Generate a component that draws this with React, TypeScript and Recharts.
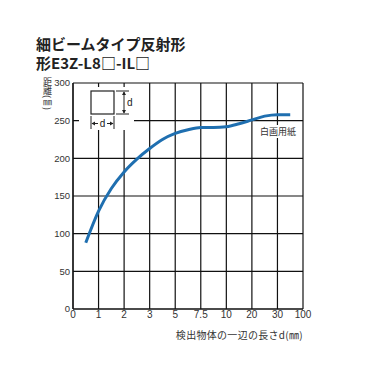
import { LineChart, Line, XAxis, YAxis, CartesianGrid } from "recharts";

// x axis is categorical-looking but evenly spaced: index -> label
const xLabels = ["0", "1", "2", "3", "5", "7.5", "10", "20", "30", "100"];
const xTicks = [0, 1, 2, 3, 4, 5, 6, 7, 8, 9];
const yTicks = [0, 50, 100, 150, 200, 250, 300];

// curve (x in tick-index units)
const curvePos = [0.5, 1, 1.5, 2, 2.5, 3, 3.5, 4, 4.5, 5, 5.5, 6, 6.5, 7, 7.5, 8, 8.5];
const distance = [88, 130, 160, 182, 199, 213, 225, 233, 238, 241, 241, 242, 246, 251, 256, 258, 258];

const data = curvePos.map((x, i) => ({ x, d: distance[i] }));

const font = "'Liberation Sans', Arial, 'Noto Sans CJK JP', sans-serif";
const jp = "'Noto Sans CJK JP', 'Liberation Sans', sans-serif";

export default function App() {
  return (
    <div
      style={{
        position: "absolute",
        left: 0,
        top: 0,
        width: 368,
        height: 370,
        background: "#fff",
        fontFamily: font,
      }}
    >
      <div
        style={{
          position: "absolute",
          left: 36,
          top: 34,
          fontFamily: jp,
          fontSize: 15,
          fontWeight: 700,
          color: "#222",
          lineHeight: "19px",
          whiteSpace: "nowrap",
        }}
      >
        <div>細ビームタイプ反射形</div>
        <div>形E3Z-L8□-IL□</div>
      </div>

      <LineChart
        width={368}
        height={370}
        data={data}
        margin={{ top: 83, right: 65, bottom: 31, left: 13 }}
      >
        <CartesianGrid stroke="#111" strokeWidth={1.2} />
        <XAxis
          dataKey="x"
          type="number"
          domain={[0, 9]}
          ticks={xTicks}
          interval={0}
          tickFormatter={(v: number) => xLabels[v]}
          axisLine={{ stroke: "#111", strokeWidth: 1.2 }}
          tickLine={false}
          tickSize={0}
          tick={{ fontSize: 10, fill: "#333", fontFamily: font }}
          tickMargin={2}
          height={30}
        />
        <YAxis
          type="number"
          domain={[0, 300]}
          ticks={yTicks}
          interval={0}
          axisLine={{ stroke: "#111", strokeWidth: 1.2 }}
          tickLine={false}
          tickSize={0}
          tick={{ fontSize: 9.5, fill: "#333", fontFamily: font }}
          tickMargin={3}
          width={60}
        />
        <Line
          type="monotone"
          dataKey="d"
          stroke="#1f6fb0"
          strokeWidth={3}
          dot={false}
          isAnimationActive={false}
        />
      </LineChart>

      {/* y axis title, written vertically */}
      <div
        style={{
          position: "absolute",
          left: 42,
          top: 77,
          writingMode: "vertical-rl",
          fontFamily: jp,
          fontSize: 9,
          lineHeight: "11px",
          color: "#333",
          whiteSpace: "nowrap",
        }}
      >
        距離(㎜)
      </div>

      {/* inset sketch of the target */}
      <svg
        style={{ position: "absolute", left: 0, top: 0 }}
        width={368}
        height={370}
      >
        <rect x={79} y={87} width={55} height={43} fill="#fff" />
        <rect x={91} y={91} width={23} height={23} fill="none" stroke="#222" strokeWidth={1.2} />
        <line x1={116} y1={91} x2={129} y2={91} stroke="#222" strokeWidth={1} />
        <line x1={116} y1={114} x2={129} y2={114} stroke="#222" strokeWidth={1} />
        <line x1={124} y1={92} x2={124} y2={113} stroke="#222" strokeWidth={1} />
        <path d="M122,95 L124,91.5 L126,95 Z" fill="#222" />
        <path d="M122,110 L124,113.5 L126,110 Z" fill="#222" />
        <line x1={91} y1={116} x2={91} y2={129} stroke="#222" strokeWidth={1} />
        <line x1={114} y1={116} x2={114} y2={129} stroke="#222" strokeWidth={1} />
        <line x1={92} y1={123.5} x2={98} y2={123.5} stroke="#222" strokeWidth={1} />
        <line x1={107} y1={123.5} x2={113} y2={123.5} stroke="#222" strokeWidth={1} />
        <path d="M95,121.5 L91.5,123.5 L95,125.5 Z" fill="#222" />
        <path d="M110,121.5 L113.5,123.5 L110,125.5 Z" fill="#222" />
        <text x={102.5} y={127} fontSize={10} fill="#222" textAnchor="middle" fontFamily={font}>
          d
        </text>
        <text x={127} y={106} fontSize={10} fill="#222" fontFamily={font}>
          d
        </text>
      </svg>

      <div
        style={{
          position: "absolute",
          left: 259,
          top: 125,
          fontFamily: jp,
          fontSize: 9,
          color: "#333",
          background: "#fff",
          lineHeight: "13px",
          padding: "0 1px",
        }}
      >
        白画用紙
      </div>

      <div
        style={{
          position: "absolute",
          right: 65,
          top: 329,
          fontFamily: jp,
          fontSize: 10,
          color: "#333",
          lineHeight: "12px",
          whiteSpace: "nowrap",
          letterSpacing: 0.3,
        }}
      >
        検出物体の一辺の長さd(㎜)
      </div>
    </div>
  );
}
